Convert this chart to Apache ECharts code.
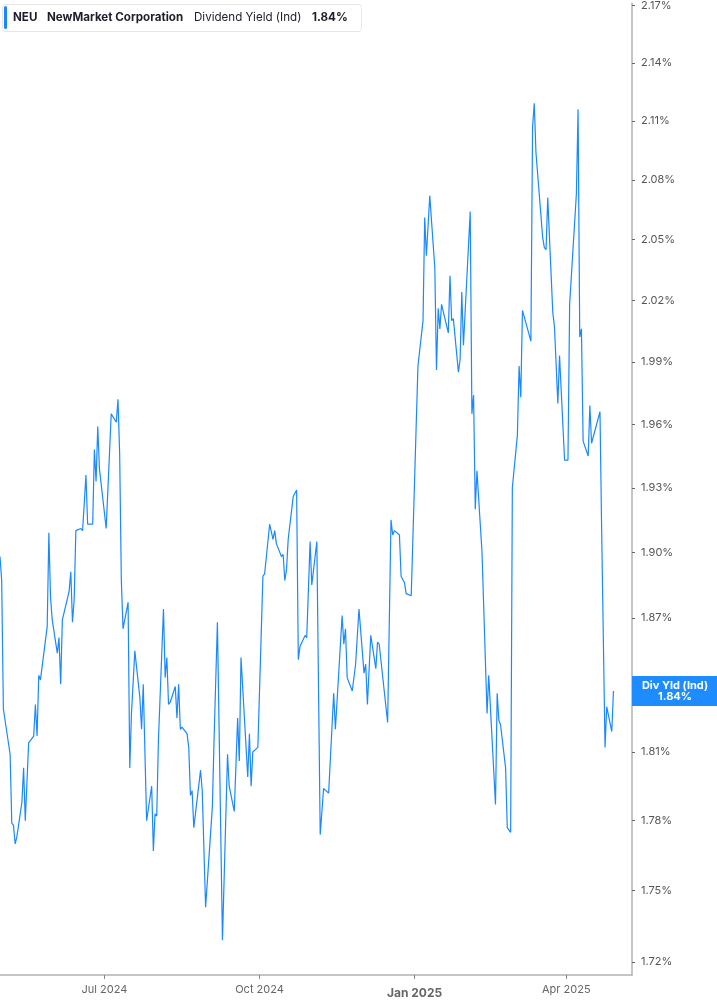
<!DOCTYPE html>
<html>
<head>
<meta charset="utf-8">
<script src="https://cdn.jsdelivr.net/npm/echarts@6/dist/echarts.min.js"></script>
<style>
html,body{margin:0;padding:0;background:#fff;}
#main{width:717px;height:1005px;}
</style>
</head>
<body>
<div id="main"></div>
<script>
const ticker = 'NEU';
const companyName = 'NewMarket Corporation';
const metricName = 'Dividend Yield (Ind)';
const endLabelName = 'Div Yld (Ind)';

const dates = [
'2024-04-30','2024-05-01','2024-05-02','2024-05-06','2024-05-07','2024-05-08','2024-05-09','2024-05-10',
'2024-05-13','2024-05-14','2024-05-15','2024-05-17','2024-05-20','2024-05-21','2024-05-22','2024-05-23',
'2024-05-24','2024-05-28','2024-05-29','2024-05-30','2024-05-31','2024-06-03','2024-06-04','2024-06-05',
'2024-06-06','2024-06-10','2024-06-11','2024-06-12','2024-06-13','2024-06-14','2024-06-17','2024-06-18',
'2024-06-20','2024-06-21','2024-06-24','2024-06-25','2024-06-26','2024-06-27','2024-06-28','2024-07-02',
'2024-07-05','2024-07-08','2024-07-09','2024-07-10','2024-07-11','2024-07-12','2024-07-15','2024-07-16',
'2024-07-17','2024-07-18','2024-07-19','2024-07-22','2024-07-23','2024-07-24','2024-07-26','2024-07-29',
'2024-07-30','2024-07-31','2024-08-01','2024-08-02','2024-08-05','2024-08-06','2024-08-07','2024-08-08',
'2024-08-09','2024-08-12','2024-08-13','2024-08-14','2024-08-15','2024-08-16','2024-08-19','2024-08-20',
'2024-08-21','2024-08-22','2024-08-23','2024-08-27','2024-08-28','2024-08-30','2024-09-03','2024-09-04',
'2024-09-06','2024-09-09','2024-09-12','2024-09-13','2024-09-16','2024-09-18','2024-09-19','2024-09-20',
'2024-09-24','2024-09-25','2024-09-26','2024-09-27','2024-09-30','2024-10-03','2024-10-04','2024-10-07',
'2024-10-08','2024-10-09','2024-10-10','2024-10-11','2024-10-14','2024-10-15','2024-10-16','2024-10-17',
'2024-10-18','2024-10-21','2024-10-22','2024-10-23','2024-10-24','2024-10-25','2024-10-28','2024-10-29',
'2024-10-31','2024-11-01','2024-11-04','2024-11-06','2024-11-08','2024-11-11','2024-11-14','2024-11-15',
'2024-11-19','2024-11-20','2024-11-21','2024-11-22','2024-11-25','2024-11-27','2024-11-29','2024-12-02',
'2024-12-03','2024-12-04','2024-12-06','2024-12-09','2024-12-10','2024-12-11','2024-12-16','2024-12-18',
'2024-12-19','2024-12-20','2024-12-23','2024-12-24','2024-12-26','2024-12-27','2024-12-30','2025-01-02',
'2025-01-03','2025-01-06','2025-01-07','2025-01-08','2025-01-10','2025-01-13','2025-01-14','2025-01-15',
'2025-01-16','2025-01-17','2025-01-21','2025-01-22','2025-01-23','2025-01-24','2025-01-27','2025-01-28',
'2025-01-29','2025-01-30','2025-02-03','2025-02-04','2025-02-05','2025-02-06','2025-02-07','2025-02-10',
'2025-02-13','2025-02-14','2025-02-18','2025-02-19','2025-02-20','2025-02-21','2025-02-24','2025-02-25',
'2025-02-26','2025-02-27','2025-02-28','2025-03-03','2025-03-04','2025-03-05','2025-03-06','2025-03-07',
'2025-03-11','2025-03-12','2025-03-13','2025-03-14','2025-03-18','2025-03-19','2025-03-20','2025-03-21',
'2025-03-24','2025-03-25','2025-03-27','2025-03-28','2025-03-31','2025-04-02','2025-04-03','2025-04-07',
'2025-04-08','2025-04-09','2025-04-10','2025-04-11','2025-04-14','2025-04-15','2025-04-16','2025-04-21',
'2025-04-22','2025-04-24','2025-04-25','2025-04-28','2025-04-29'
];

const yields = [
1.898,1.887,1.829,1.809,1.779,1.778,1.770,1.773,
1.788,1.803,1.780,1.814,1.817,1.831,1.817,1.844,
1.842,1.866,1.909,1.879,1.869,1.854,1.861,1.840,
1.869,1.882,1.891,1.868,1.878,1.910,1.911,1.910,
1.936,1.913,1.913,1.948,1.933,1.959,1.939,1.911,
1.965,1.961,1.972,1.946,1.887,1.865,1.877,1.803,
1.827,1.827,1.855,1.834,1.820,1.840,1.780,1.795,
1.767,1.783,1.782,1.815,1.874,1.843,1.852,1.831,
1.832,1.839,1.825,1.840,1.820,1.821,1.818,1.812,
1.791,1.793,1.777,1.802,1.793,1.743,1.786,1.815,
1.868,1.729,1.809,1.795,1.784,1.825,1.806,1.852,
1.799,1.818,1.795,1.810,1.812,1.889,1.890,1.913,
1.913,1.906,1.910,1.904,1.898,1.899,1.887,1.892,
1.906,1.926,1.926,1.929,1.851,1.857,1.862,1.861,
1.905,1.885,1.905,1.774,1.794,1.792,1.836,1.820,
1.871,1.858,1.865,1.843,1.837,1.849,1.874,1.845,
1.849,1.831,1.862,1.847,1.859,1.858,1.823,1.915,
1.908,1.910,1.908,1.889,1.886,1.881,1.880,1.961,
1.988,2.010,2.061,2.042,2.072,2.036,1.986,2.016,
2.006,2.018,2.004,2.032,2.010,2.011,1.985,1.991,
2.024,1.998,2.064,1.965,1.974,1.920,1.938,1.900,
1.827,1.844,1.787,1.836,1.824,1.822,1.803,1.777,
1.777,1.775,1.930,1.955,1.988,1.973,2.015,2.015,
2.000,2.107,2.119,2.094,2.051,2.046,2.045,2.071,
2.014,2.007,1.970,1.993,1.943,1.943,2.018,2.073,
2.116,2.002,2.006,1.952,1.945,1.969,1.951,1.966,
1.910,1.812,1.830,1.819,1.837
];

const yTicks = [1.72,1.75,1.78,1.81,1.84,1.87,1.90,1.93,1.96,1.99,2.02,2.05,2.08,2.11,2.14,2.17];
const xTickDates = ['2024-07-01','2024-10-01','2025-01-01','2025-04-01'];
const xTickLabels = ['Jul 2024','Oct 2024','Jan 2025','Apr 2025'];
const xRange = ['2024-04-30','2025-05-10'];
const yRange = [1.7145, 2.1712];

const FONT = 'Inter, "Noto Sans", sans-serif';
const LINE_COLOR = '#1a88ff';
const lastValue = yields[yields.length - 1];

function toTime(s) {
  const p = s.split('-').map(Number);
  return Date.UTC(p[0], p[1] - 1, p[2]);
}
const xTickTimes = xTickDates.map(toTime);

const chart = echarts.init(document.getElementById('main'), null, {renderer: 'canvas'});

const seriesData = dates.map((d, i) => [toTime(d), Math.log(yields[i])]);

chart.setOption({
  animation: false,
  backgroundColor: '#ffffff',
  grid: {left: 0, right: 85, top: 0, bottom: 30, containLabel: false},
  xAxis: {
    type: 'value',
    min: toTime(xRange[0]),
    max: toTime(xRange[1]),
    splitLine: {show: false},
    axisLine: {show: true, onZero: false, lineStyle: {color: '#b3b3b3', width: 1.5}},
    axisTick: {show: true, length: 4, lineStyle: {color: '#888'}, customValues: xTickTimes},
    axisLabel: {
      customValues: xTickTimes,
      margin: 9,
      color: '#666',
      fontFamily: FONT,
      fontSize: 11,
      formatter: function (val) {
        let idx = -1, best = Infinity;
        xTickTimes.forEach((t, i) => { const dd = Math.abs(t - val); if (dd < best) { best = dd; idx = i; } });
        const label = xTickLabels[idx];
        return xTickDates[idx].slice(5, 7) === '01' ? '{b|' + label + '}' : label;
      },
      rich: {
        b: {fontWeight: 'bold', fontSize: 12, color: '#666', fontFamily: FONT, padding: [3, 0, 0, 0]}
      }
    }
  },
  yAxis: {
    type: 'value',
    position: 'right',
    min: Math.log(yRange[0]),
    max: Math.log(yRange[1]),
    splitLine: {show: false},
    axisLine: {show: true, lineStyle: {color: '#b3b3b3', width: 1.5}},
    axisTick: {show: true, length: 3, lineStyle: {color: '#666'}, customValues: yTicks.map(Math.log)},
    axisLabel: {
      customValues: yTicks.map(Math.log),
      margin: 9,
      color: '#555',
      fontFamily: FONT,
      fontSize: 11,
      formatter: function (v) { return Math.exp(v).toFixed(2) + '%'; }
    }
  },
  series: [{
    type: 'line',
    data: seriesData,
    showSymbol: false,
    symbol: 'none',
    lineStyle: {color: LINE_COLOR, width: 1.2},
    clip: true
  }]
});

const lastY = chart.convertToPixel({yAxisIndex: 0}, Math.log(lastValue));
chart.setOption({
  graphic: [
    {type: 'rect', left: 2, top: 4, z: 100, shape: {width: 359, height: 27, r: 3},
     style: {fill: '#ffffff', stroke: '#e6e6e6', lineWidth: 1}},
    {type: 'rect', left: 4, top: 6, z: 101, shape: {width: 3, height: 23, r: 1.5},
     style: {fill: LINE_COLOR}},
    {type: 'text', x: 13, y: 18, z: 102,
     style: {text: ticker, font: 'bold 11.6px ' + FONT, fill: '#1d1d2b', verticalAlign: 'middle'}},
    {type: 'text', x: 47, y: 18, z: 102,
     style: {text: companyName, font: 'bold 11.6px ' + FONT, fill: '#1d1d2b', verticalAlign: 'middle'}},
    {type: 'text', x: 194, y: 18, z: 102,
     style: {text: metricName, font: '11.6px ' + FONT, fill: '#1d1d2b', verticalAlign: 'middle'}},
    {type: 'text', x: 312, y: 18, z: 102,
     style: {text: lastValue.toFixed(2) + '%', font: 'bold 11.6px ' + FONT, fill: '#1d1d2b', verticalAlign: 'middle'}},
    {type: 'rect', x: 632, y: lastY - 15, z: 100, shape: {width: 85, height: 30},
     style: {fill: '#1e8cff'}},
    {type: 'text', x: 675, y: lastY - 5.5, z: 101,
     style: {text: endLabelName, font: 'bold 11px ' + FONT, fill: '#ffffff', align: 'center', verticalAlign: 'middle'}},
    {type: 'text', x: 675, y: lastY + 5.5, z: 101,
     style: {text: lastValue.toFixed(2) + '%', font: 'bold 11px ' + FONT, fill: '#ffffff', align: 'center', verticalAlign: 'middle'}}
  ]
});
</script>
</body>
</html>
